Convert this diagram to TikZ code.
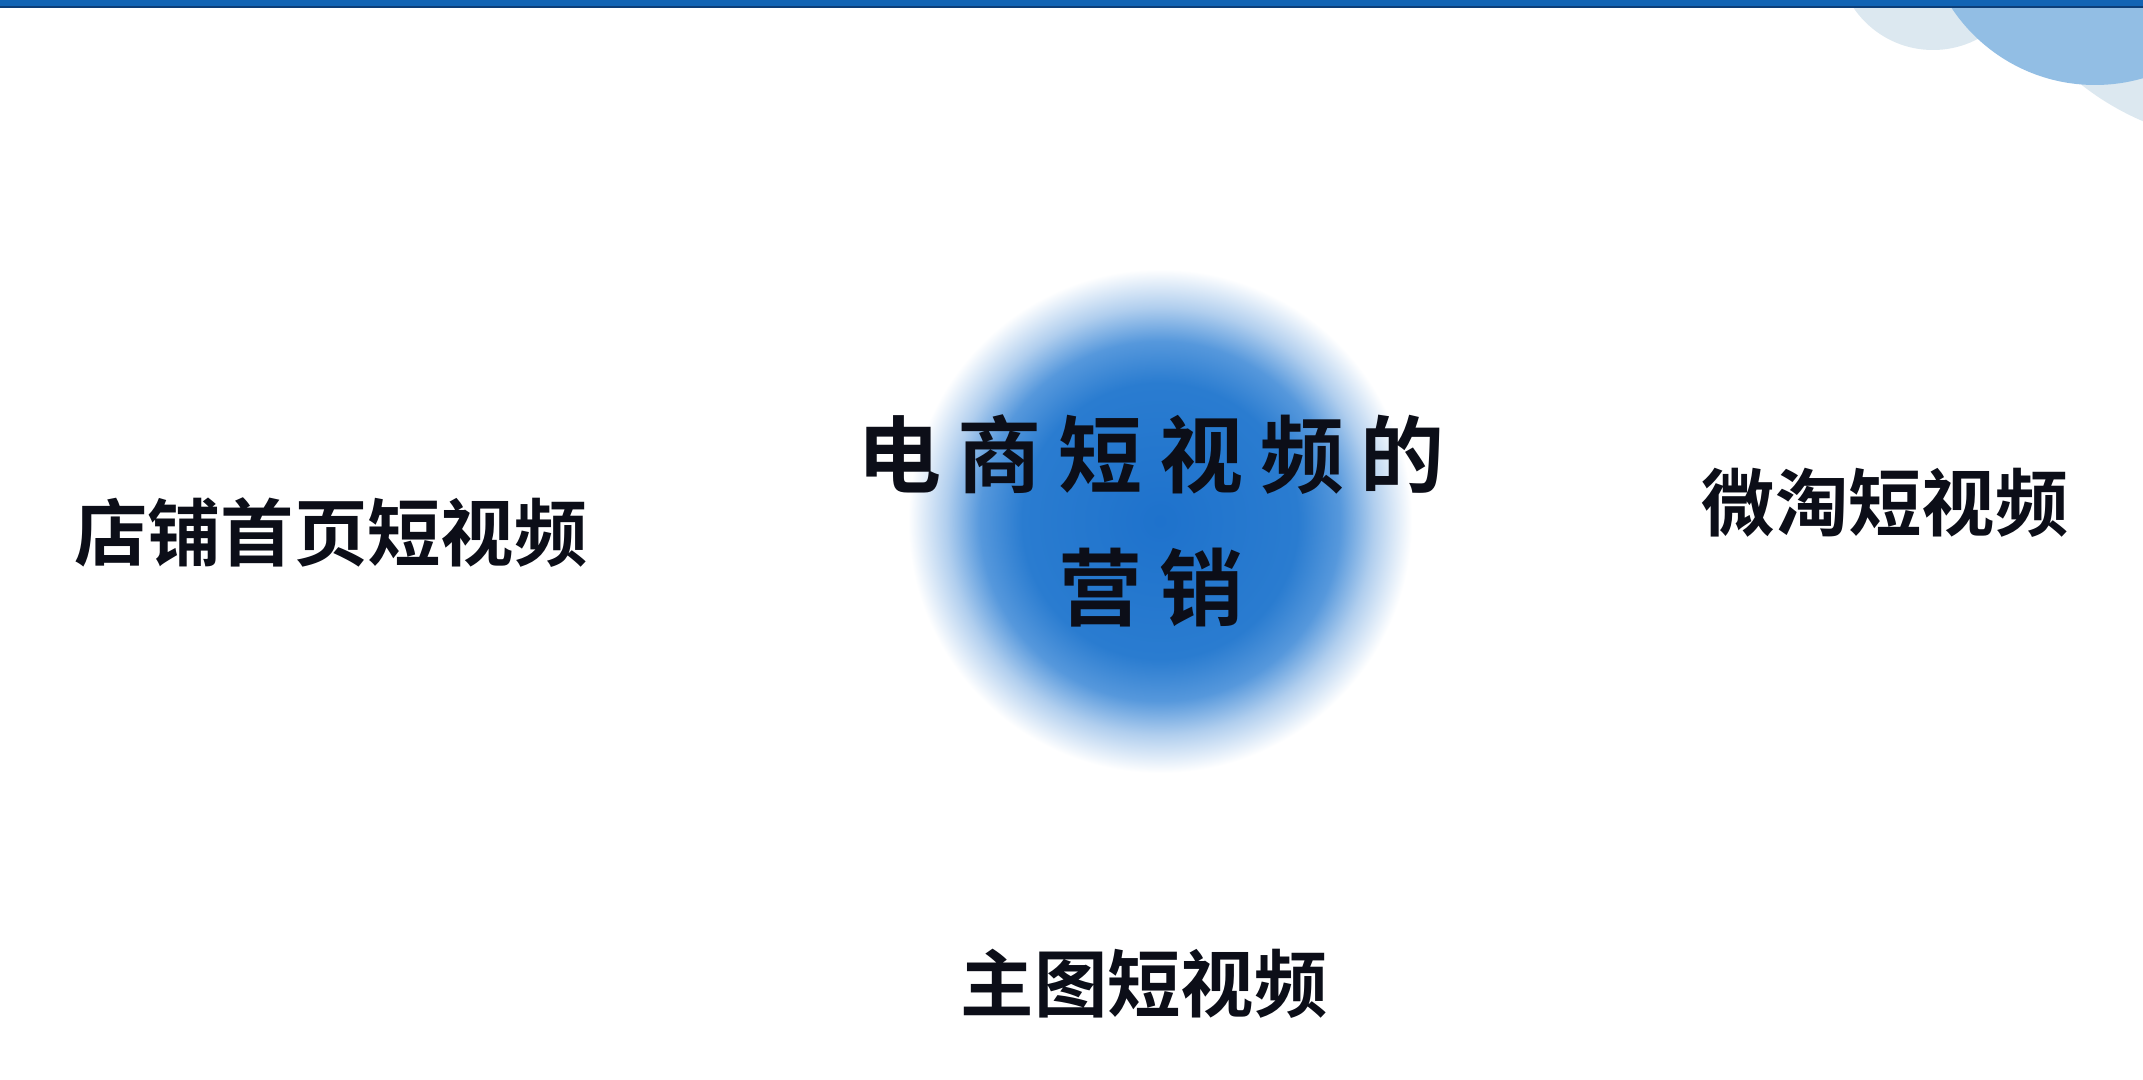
\documentclass[tikz,border=0pt]{standalone}
\usepackage{fontspec}
\newfontfamily\cjk{Noto Sans CJK SC}[BoldFont={Noto Sans CJK SC Bold}]
\definecolor{barblue}{RGB}{18,100,180}
\definecolor{barline}{RGB}{12,62,120}
\definecolor{palearc}{RGB}{220,232,240}
\definecolor{midarc}{RGB}{146,190,228}
\definecolor{blobcore}{RGB}{30,114,204}
\definecolor{blobinner}{RGB}{42,124,208}
\definecolor{blobmid}{RGB}{86,152,220}
\definecolor{blobedge}{RGB}{176,206,238}
\definecolor{inkdark}{RGB}{12,14,24}
\pgfdeclareradialshading{blob}{\pgfpoint{0bp}{0bp}}{color(0bp)=(blobcore); color(11.5bp)=(blobinner); color(15bp)=(blobmid); color(17.8bp)=(blobedge); color(21bp)=(white); color(50bp)=(white)}
\tikzset{
  titletext/.style={font=\cjk\bfseries\addfontfeature{LetterSpace=20}\fontsize{63}{100}\selectfont, align=center, text=inkdark, inner sep=0pt},
  sidetext/.style={font=\cjk\bfseries\fontsize{55}{66}\selectfont, text=inkdark, inner sep=0pt}
}
\begin{document}
\begin{tikzpicture}[x=0.75pt,y=0.75pt,yscale=-1]
\useasboundingbox (0,0) rectangle (2143,1080);
\clip (0,0) rectangle (2143,1080);
\fill[white] (0,0) rectangle (2143,1080);

%Shape: Circle (corner, lower)
\fill[palearc] (2250,-130) circle (273);
%Shape: Circle (corner, left)
\fill[palearc] (1933,-46) circle (96);
%Shape: Circle (corner, front)
\fill[midarc] (2095,-87) circle (172);

%Top bar
\fill[barblue] (0,0) rectangle (2143,7);
\draw[barline, line width=1.2] (0,7) -- (2143,7);

%Shape: Circle (glow)
\shade[shading=blob] (1160,521) circle (300);

% Text Node
\node[titletext] (title) at (1151,521) {电商短视频的\\营销};
% Text Node
\node[sidetext] (shop) at (331,533) {店铺首页短视频};
% Text Node
\node[sidetext] (weitao) at (1885,503) {微淘短视频};
% Text Node
\node[sidetext] (maingraph) at (1144,984) {主图短视频};

\end{tikzpicture}
\end{document}
